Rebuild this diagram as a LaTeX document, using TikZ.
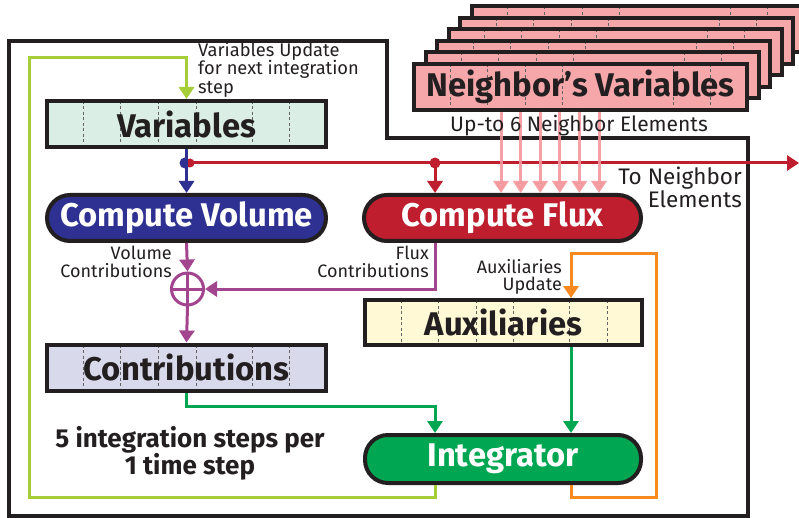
\documentclass[tikz,border=0pt]{standalone}
\usepackage{fontspec}
\setmainfont{Fira Sans}
\usetikzlibrary{arrows.meta,calc}

\definecolor{ink}{HTML}{231F20}
\definecolor{volblue}{HTML}{2E3192}
\definecolor{fluxred}{HTML}{BE1E2D}
\definecolor{mixpurple}{HTML}{A3458E}
\definecolor{intgreen}{HTML}{00A651}
\definecolor{loopgreen}{HTML}{A6CE39}
\definecolor{auxorange}{HTML}{F7891F}
\definecolor{nbrpink}{HTML}{F5A7AA}
\definecolor{nbrarrow}{HTML}{F4979C}
\definecolor{varfill}{HTML}{DAEEE5}
\definecolor{contribfill}{HTML}{D9D9EC}
\definecolor{auxfill}{HTML}{FFF9D6}

\tikzset{
  cellline/.style={draw=ink!70, line width=0.8pt, dash pattern=on 3pt off 2.5pt},
  cells/.style={path picture={
      \foreach \o in {#1}{
        \draw[cellline] ([xshift=\o pt]path picture bounding box.north west)
          -- ([xshift=\o pt]path picture bounding box.south west);}}},
  bigfont/.style={font=\bfseries\fontsize{32.8}{33}\selectfont},
  box/.style={draw=ink, line width=4pt, minimum width=279pt, minimum height=46pt,
    inner sep=0pt, text=ink, bigfont, cells={36,73,111,149,205,242}},
  pill/.style={draw=ink, line width=4pt, rounded corners=23pt, minimum width=279pt,
    minimum height=46pt, inner sep=0pt, text=white, bigfont},
  nbox/.style={draw=ink, line width=4pt, fill=nbrpink, minimum width=333pt,
    minimum height=46pt, inner sep=0pt, text=ink, bigfont,
    cells={36,73,111,148,259,296}},
  lbl/.style={font=\fontsize{18}{17.5}\selectfont, text=ink, inner sep=0pt},
  flow/.style={line width=3pt},
  tipped/.style={-{Triangle[width=15pt,length=12pt]}},
  dot/.style={circle, inner sep=0pt, minimum size=#1},
}

\begin{document}
\begin{tikzpicture}[x=1pt,y=-1pt]
\useasboundingbox (0,0) rectangle (799,518);

% outer frame of one element
\draw[ink, line width=4.5pt] (9,41) -- (387,41) -- (387,138) -- (748,138)
  -- (748,516) -- (9,516) -- cycle;

% stack of neighbour variable arrays
\foreach \k in {5,4,...,1}{
  \node[nbox] (nbr\k) at (580.5+11.5*\k, 87-11.5*\k) {};
}
\node[nbox] (nbr0) at (580.5,87) {Neighbor’s Variables};

% element boxes
\node[box, fill=varfill] (vars) at (186.5,124) {Variables};
\node[pill, fill=volblue] (cvol) at (186.5,218) {Compute Volume};
\node[pill, fill=fluxred, minimum width=277pt] (cflux) at (502.5,218) {Compute Flux};
\node[box, fill=contribfill] (contrib) at (186.5,367.5) {Contributions};
\node[box, fill=auxfill, minimum width=277pt, minimum height=45pt,
  cells={36,73,111,148,204,242}] (aux) at (503.5,322.5) {Auxiliaries};
\node[pill, fill=intgreen, minimum width=276pt, minimum height=48pt] (integ)
  at (503,459) {Integrator};
\node[circle, draw=mixpurple, line width=3pt, minimum size=32pt, inner sep=0pt]
  (plus) at (187.5,289) {};
\draw[mixpurple, line width=3pt] (plus.north) -- (plus.south) (plus.west) -- (plus.east);

% junction dots on the variables bus
\node[dot=11pt, fill=volblue] (vdot) at (185,163) {};
\node[dot=9pt, fill=fluxred] (rdot) at (190,163) {};
\node[dot=11pt, fill=fluxred] (fdot) at (435,163) {};
\coordinate (redend) at (799,163);

% variables to volume computation
\draw[flow, volblue, tipped] (vars.south) -- (cvol.north);

% variables to flux computation and out to the neighbours
\draw[flow, fluxred, tipped] (rdot.center) -- (redend);
\draw[flow, fluxred, tipped] (fdot.center) -- (fdot |- cflux.north);

% neighbour variables into the flux computation
\foreach \k in {0,...,5}{
  \draw[flow, nbrarrow, opacity=0.9, tipped]
    ([xshift=-79.5pt+19.6pt*\k]nbr0.south) -- ([xshift=-79.5pt+19.6pt*\k]nbr0.south |- cflux.north);
}

% contributions summed
\draw[flow, mixpurple, tipped] (cvol.south) -- (plus.north);
\draw[flow, mixpurple, tipped] (plus.south) -- (contrib.north);
\draw[flow, mixpurple, tipped] (fdot |- cflux.south) -- (fdot |- plus) -- (plus.east);

% into the integrator
\draw[flow, intgreen, tipped] (contrib.south) -- ++(0,14) -| (integ.north -| fdot);
\draw[flow, intgreen, tipped] ([xshift=67.5pt]aux.south) -- ([xshift=67.5pt]aux.south |- integ.north);

% auxiliaries update loop
\draw[flow, auxorange, tipped] ([xshift=68pt]integ.south) -- ++(0,12) -| (656,254)
  -| ([xshift=67.5pt]aux.north);

% variables update loop
\draw[flow, loopgreen, tipped] (integ.south -| fdot) -- ++(0,12) -| (29,58) -| (vars.north);

% labels
\node[lbl, font=\fontsize{18.3}{18.5}\selectfont, align=left, anchor=north west] (lupd)
  at (198,42) {Variables Update\\for next integration\\step};
\node[lbl, font=\fontsize{21}{21}\selectfont, anchor=north] (lup6) at (579,115)
  {Up-to 6 Neighbor Elements};
\node[lbl, font=\fontsize{22.5}{21}\selectfont, align=right, anchor=north east] (lnbr)
  at (742,167) {To Neighbor\\Elements};
\node[lbl, align=right, anchor=north east] (lvol) at (172,246) {Volume\\Contributions};
\node[lbl, align=right, anchor=north east] (lflux) at (429,246) {Flux\\Contributions};
\node[lbl, align=right, anchor=north east] (laux) at (562,259) {Auxiliaries\\Update};
\node[text=ink, font=\bfseries\fontsize{26}{27}\selectfont, align=center, inner sep=0pt]
  (lsteps) at (190,453) {5 integration steps per\\1 time step};
\end{tikzpicture}
\end{document}
